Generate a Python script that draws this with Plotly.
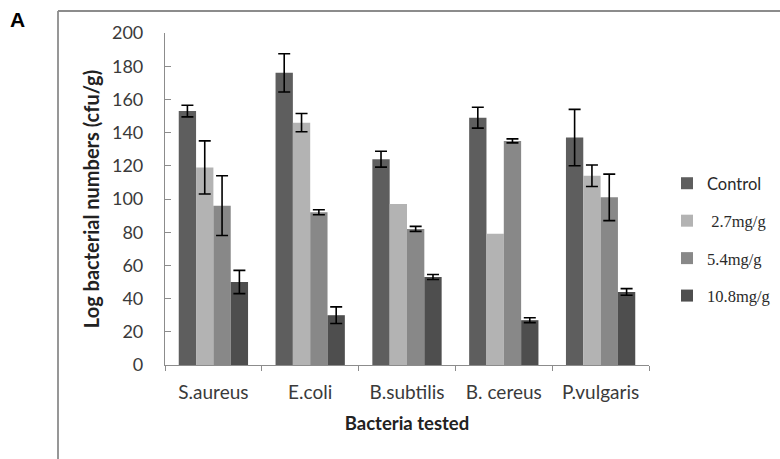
import plotly.graph_objects as go

categories = ["S.aureus", "E.coli", "B.subtilis", "B. cereus", "P.vulgaris"]
series_names = ["Control", " 2.7mg/g", "5.4mg/g", "10.8mg/g"]
control = [153, 176, 124, 149, 137]
control_err = [3.5, 11.5, 4.8, 6.3, 17]
dose_27 = [119, 146, 97, 79, 114]
dose_27_err = [16, 5.5, "NaN", "NaN", 6.5]
dose_54 = [96, 92, 82, 135, 101]
dose_54_err = [18, 1.5, 1.5, 1.2, 14]
dose_108 = [50, 30, 53, 27, 44]
dose_108_err = [7, 5, 1.5, 1.5, 2]
y_ticks = [0, 20, 40, 60, 80, 100, 120, 140, 160, 180, 200]

values = [control, dose_27, dose_54, dose_108]
errors = [control_err, dose_27_err, dose_54_err, dose_108_err]
colors = ["#5e5e5e", "#b3b3b3", "#888888", "#4e4e4e"]
legend_fonts = ["Lato", "Liberation Serif", "Liberation Serif", "Liberation Serif"]

W, H = 780, 459
L, R, T, B = 165, 131, 33, 94

fig = go.Figure()
for i, (name, vals, errs, col) in enumerate(zip(series_names, values, errors, colors)):
    fig.add_trace(go.Bar(
        x=categories, y=vals, name=f"<span style='font-family:{legend_fonts[i]}'>{name}</span>",
        marker=dict(color=col, line=dict(width=0)),
        error_y=dict(type="data", array=errs, visible=True, color="black",
                     thickness=1.6, width=6),
        legendgroup=f"g{i}",
    ))

pw = W - L - R
ph = H - T - B

def px_x(px):
    return (px - L) / pw

def px_y(py):
    return (H - B - py) / ph

line_col = "#8c8c8c"
fig.add_shape(type="line", xref="paper", yref="paper",
              x0=px_x(58), x1=px_x(790), y0=px_y(11), y1=px_y(11),
              line=dict(color=line_col, width=1.8))
fig.add_shape(type="line", xref="paper", yref="paper",
              x0=px_x(58), x1=px_x(58), y0=px_y(11), y1=px_y(470),
              line=dict(color=line_col, width=1.8))

fig.add_annotation(text="<b>A</b>", xref="paper", yref="paper",
                   x=px_x(8), y=px_y(20), xanchor="left", yanchor="middle",
                   showarrow=False, font=dict(family="Liberation Sans", size=21, color="black"))

fig.update_layout(
    width=W, height=H,
    margin=dict(l=L, r=R, t=T, b=B, autoexpand=False),
    paper_bgcolor="white", plot_bgcolor="white",
    barmode="group", bargap=0.284, bargroupgap=0,
    font=dict(family="Lato", size=18, color="#3a3a3a"),
    showlegend=True,
    legend=dict(x=px_x(667), y=px_y(166), xanchor="left", yanchor="top",
                traceorder="grouped", tracegroupgap=13,
                font=dict(size=16.5, color="#2a2a2a"), itemwidth=30),
    xaxis=dict(
        showline=True, linecolor=line_col, linewidth=1.2,
        ticks="outside", ticklen=5, tickcolor=line_col, tickson="boundaries",
        showgrid=False, zeroline=False, automargin=False,
        ticklabelstandoff=10,
        title=dict(text="<b>Bacteria tested</b>", font=dict(size=18.5, color="#222222"), standoff=15),
        tickfont=dict(size=19, color="#3a3a3a"),
    ),
    yaxis=dict(
        range=[0, 200], tickvals=y_ticks,
        showline=True, linecolor=line_col, linewidth=1.2,
        ticks="inside", ticklen=6, tickcolor=line_col,
        showgrid=False, zeroline=False, automargin=False,
        ticklabelstandoff=17,
        title=dict(text="<b>Log bacterial numbers (cfu/g)</b>", font=dict(size=20, color="#222222"), standoff=6),
        tickfont=dict(size=18, color="#3a3a3a"),
    ),
)

fig.write_html("out.html", config={"displayModeBar": False},
               post_script="document.body.style.margin='0px';")
